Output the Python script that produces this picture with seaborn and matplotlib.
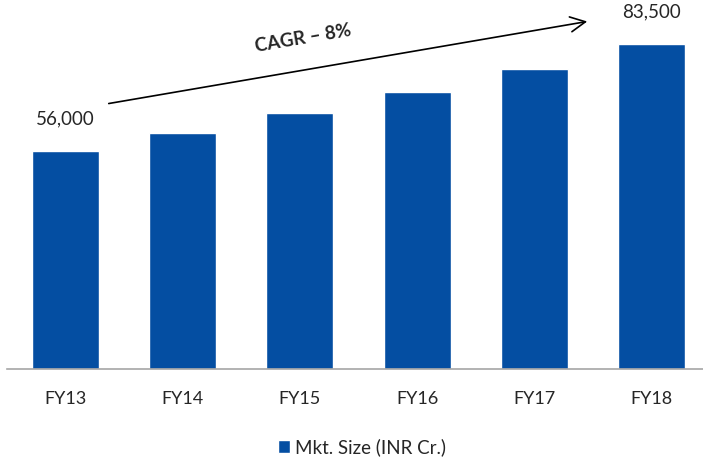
import matplotlib
matplotlib.use("Agg")
import matplotlib.pyplot as plt
import seaborn as sns
import pandas as pd

# Chart data
years = ["FY13", "FY14", "FY15", "FY16", "FY17", "FY18"]
mkt_size = [56000, 60700, 65700, 71200, 77100, 83500]
labelled = {"FY13": "56,000", "FY18": "83,500"}
series_name = "Mkt. Size (INR Cr.)"
cagr_text = "CAGR – 8%"

bar_color = "#044EA2"

sns.set_theme(style="white")
plt.rcParams["font.family"] = ["Lato", "DejaVu Sans"]

df = pd.DataFrame({"year": years, "size": mkt_size})

fig = plt.figure(figsize=(7.03, 4.57), dpi=100)
# axes spans from baseline (y=369 px) to the top of the picture
ax = fig.add_axes([6.9 / 703, 88 / 457, 703.2 / 703, 369 / 457])

sns.barplot(data=df, x="year", y="size", color=bar_color, width=0.57,
            saturation=1, label=series_name, ax=ax)

ax.set_xlim(-0.5, 5.5)
ax.set_ylim(0, 94800)
ax.set_xlabel("")
ax.set_ylabel("")
ax.set_yticks([])
for side in ["top", "right", "left"]:
    ax.spines[side].set_visible(False)
ax.spines["bottom"].set_color("#A6A6A6")
ax.spines["bottom"].set_linewidth(1.2)
ax.tick_params(axis="x", length=0, pad=16, labelsize=13, labelcolor="#262626")

# value labels on first and last bar
for i, yr in enumerate(years):
    if yr in labelled:
        ax.annotate(labelled[yr], (i, mkt_size[i]), xytext=(0, 17),
                    textcoords="offset points", ha="center", va="bottom",
                    fontsize=13.5, color="#262626")

# CAGR arrow and text
ax.annotate("", xy=(590, 436), xycoords="figure pixels",
            xytext=(106, 353), textcoords="figure pixels",
            arrowprops=dict(arrowstyle="->,head_length=0.9,head_width=0.45",
                            color="black", lw=1.2))
fig.text(303 / 703, 1 - 38 / 457, cagr_text, rotation=9.7, ha="center",
         va="center", fontsize=13.5, fontweight="bold", color="#262626")

ax.legend(loc="center", bbox_to_anchor=(362 / 703, 10 / 457),
          bbox_transform=fig.transFigure, frameon=False, fontsize=13.5,
          handlelength=0.65, handleheight=0.65, handletextpad=0.3,
          borderpad=0, borderaxespad=0)

fig.savefig("out.png", dpi=100)
